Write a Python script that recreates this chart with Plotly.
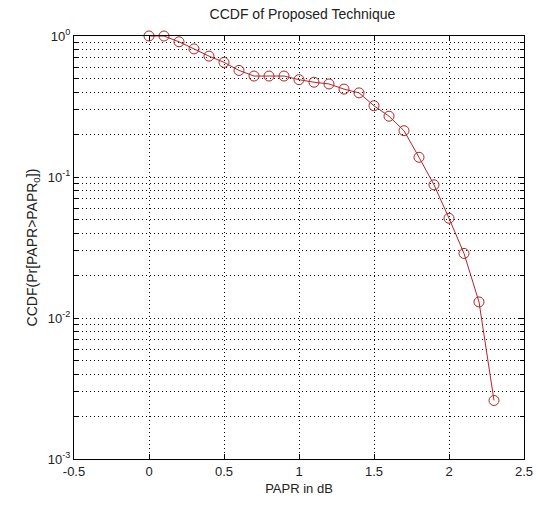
import plotly.graph_objects as go

# Data
papr_db = [0.0, 0.1, 0.2, 0.3, 0.4, 0.5, 0.6, 0.7, 0.8, 0.9, 1.0, 1.1,
           1.2, 1.3, 1.4, 1.5, 1.6, 1.7, 1.8, 1.9, 2.0, 2.1, 2.2, 2.3]
ccdf = [1.0, 1.0, 0.91, 0.81, 0.72, 0.65, 0.57, 0.52, 0.52, 0.52, 0.49, 0.47,
        0.457, 0.42, 0.395, 0.32, 0.27, 0.213, 0.138, 0.088, 0.051, 0.0287,
        0.013, 0.0026]

x_ticks = [-0.5, 0, 0.5, 1, 1.5, 2, 2.5]
x_tick_text = ["-0.5", "0", "0.5", "1", "1.5", "2", "2.5"]
decades = [-3, -2, -1, 0]
y_major = [10 ** d for d in decades]
y_major_text = [f"10<sup>{d}</sup>" for d in decades]
y_minor = [m * 10 ** d for d in decades[:-1] for m in range(2, 10)]

font = "Liberation Sans, Arial, sans-serif"
txt_col = "#222"
line_col = "#b3262a"
grid_dash = "1px,3px"

fig = go.Figure()
fig.add_trace(go.Scatter(
    x=papr_db, y=ccdf, mode="lines+markers",
    line=dict(color=line_col, width=1),
    marker=dict(symbol="circle-open", size=10, color=line_col, line=dict(width=1)),
    showlegend=False, cliponaxis=False,
))

axis_common = dict(
    showline=True, linecolor="black", linewidth=1, mirror="allticks",
    ticks="inside", ticklen=5, tickcolor="black",
    showgrid=True, gridcolor="black", gridwidth=1, griddash=grid_dash,
    zeroline=False, tickfont=dict(family=font, size=13, color=txt_col),
)

fig.update_xaxes(range=[-0.5, 2.5], tickvals=x_ticks, ticktext=x_tick_text,
                 title=dict(text="PAPR in dB", font=dict(family=font, size=13, color=txt_col),
                            standoff=6),
                 **axis_common)
fig.update_yaxes(type="log", range=[-3, 0], tickvals=y_major, ticktext=y_major_text,
                 minor=dict(tickvals=y_minor, ticks="inside", ticklen=4, tickcolor="black",
                            showgrid=True, gridcolor="black", gridwidth=1, griddash=grid_dash),
                 title=dict(text="CCDF(Pr[PAPR>PAPR<sub>0</sub>])",
                            font=dict(family=font, size=14, color=txt_col), standoff=6),
                 **axis_common)

fig.update_layout(
    width=545, height=506,
    margin=dict(l=74, r=14, t=36, b=44),
    paper_bgcolor="white", plot_bgcolor="white",
    title=dict(text="CCDF of Proposed Technique", x=0.555, xanchor="center",
               y=1 - 14 / 506, yanchor="middle", yref="container",
               font=dict(family=font, size=14, color=txt_col)),
)

fig.write_html("out.html")
